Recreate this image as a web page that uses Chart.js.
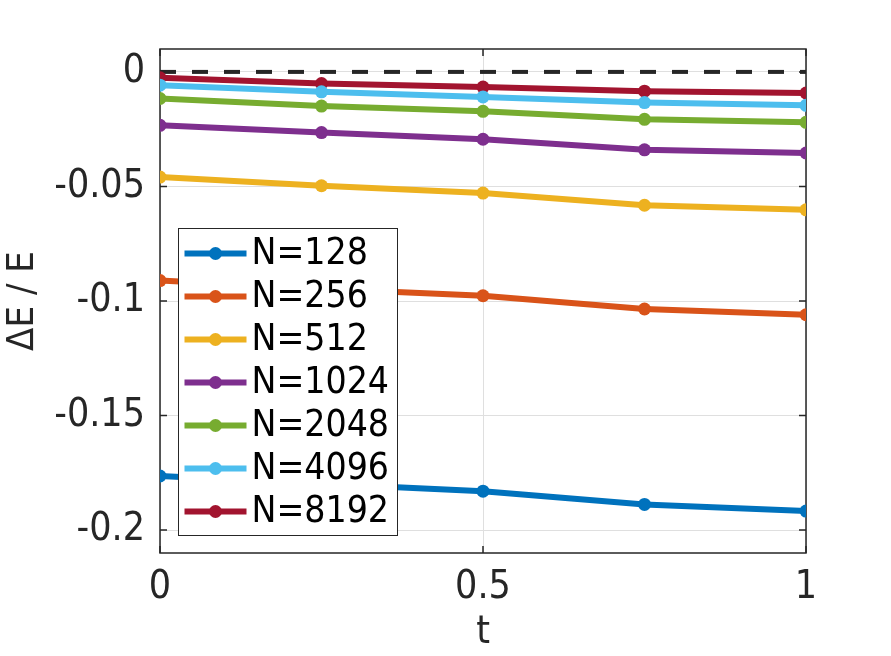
<!DOCTYPE html>
<html>
<head>
<meta charset="utf-8">
<script src="https://cdn.jsdelivr.net/npm/chart.js@4/dist/chart.umd.min.js"></script>
<style>
  html, body { margin: 0; padding: 0; background: #fff; }
  canvas { display: block; }
</style>
</head>
<body>
<canvas id="chart" width="891" height="656"></canvas>
<script>
// time samples
const times = [0, 0.25, 0.5, 0.75, 1];

// relative energy error per resolution
const labels = ["N=128", "N=256", "N=512", "N=1024", "N=2048", "N=4096", "N=8192"];
const n128  = [-0.1764, -0.1798, -0.1830, -0.1888, -0.1917];
const n256  = [-0.0911, -0.0946, -0.0977, -0.1035, -0.1060];
const n512  = [-0.0459, -0.0497, -0.0529, -0.0582, -0.0602];
const n1024 = [-0.0233, -0.0265, -0.0294, -0.0340, -0.0354];
const n2048 = [-0.0116, -0.0149, -0.0172, -0.0207, -0.0220];
const n4096 = [-0.0058, -0.0087, -0.0109, -0.0134, -0.0146];
const n8192 = [-0.0026, -0.0051, -0.0066, -0.0084, -0.0092];
const series = [n128, n256, n512, n1024, n2048, n4096, n8192];
const colors = ["#0072BD", "#D95319", "#EDB120", "#7E2F8E", "#77AC30", "#4DBEEE", "#A2142F"];

const zeroLine = [0, 0];
const xTicks = [0, 0.5, 1];
const yTicks = [-0.2, -0.15, -0.1, -0.05, 0];

const FONT = "'DejaVu Sans Condensed', 'DejaVu Sans', sans-serif";
const INK = "#262626";

const datasets = series.map((vals, i) => ({
  label: labels[i],
  data: vals.map((v, j) => ({ x: times[j], y: v })),
  borderColor: colors[i],
  backgroundColor: colors[i],
  borderWidth: 6,
  pointRadius: 6.5,
  pointHoverRadius: 6.5,
  pointBorderWidth: 0,
  tension: 0
}));

datasets.push({
  label: "zero",
  data: zeroLine.map((v, j) => ({ x: xTicks[j * 2], y: v })),
  borderColor: INK,
  borderWidth: 4,
  borderDash: [16, 16],
  pointRadius: 0,
  tension: 0
});

// box + inward ticks, under the lines
const axesBox = {
  id: "axesBox",
  beforeDatasetsDraw(chart) {
    const { ctx, chartArea: a, scales: { x, y } } = chart;
    ctx.save();
    ctx.strokeStyle = INK;
    ctx.lineWidth = 1.5;
    ctx.strokeRect(a.left, a.top, a.right - a.left, a.bottom - a.top);
    ctx.beginPath();
    const tl = 7;
    xTicks.forEach(v => {
      const px = x.getPixelForValue(v);
      ctx.moveTo(px, a.bottom); ctx.lineTo(px, a.bottom - tl);
      ctx.moveTo(px, a.top); ctx.lineTo(px, a.top + tl);
    });
    yTicks.forEach(v => {
      const py = y.getPixelForValue(v);
      ctx.moveTo(a.left, py); ctx.lineTo(a.left + tl, py);
      ctx.moveTo(a.right, py); ctx.lineTo(a.right - tl, py);
    });
    ctx.stroke();
    ctx.restore();
  }
};

// MATLAB-like legend box inside the axes
const boxLegend = {
  id: "boxLegend",
  afterDraw(chart) {
    const { ctx, chartArea: a } = chart;
    const left = a.left + 18.5, top = a.top + 179.5;
    const w = 219, h = 307, row = 43;
    ctx.save();
    ctx.fillStyle = "#fff";
    ctx.fillRect(left, top, w, h);
    ctx.strokeStyle = INK;
    ctx.lineWidth = 1;
    ctx.strokeRect(left, top, w, h);
    ctx.font = "37px " + FONT;
    ctx.textBaseline = "middle";
    labels.forEach((lab, i) => {
      const cy = top + 25 + i * row;
      ctx.strokeStyle = colors[i];
      ctx.lineWidth = 6;
      ctx.beginPath();
      ctx.moveTo(left + 6, cy);
      ctx.lineTo(left + 68, cy);
      ctx.stroke();
      ctx.fillStyle = colors[i];
      ctx.beginPath();
      ctx.arc(left + 37, cy, 6.5, 0, Math.PI * 2);
      ctx.fill();
      ctx.fillStyle = "#000";
      ctx.fillText(lab, left + 73, cy + 1);
    });
    ctx.restore();
  }
};

new Chart(document.getElementById("chart"), {
  type: "line",
  data: { datasets },
  plugins: [axesBox, boxLegend],
  options: {
    responsive: false,
    animation: false,
    devicePixelRatio: 1,
    layout: { padding: { top: 49, right: 85, left: 0, bottom: 0 } },
    plugins: { legend: { display: false }, tooltip: { enabled: false } },
    scales: {
      x: {
        type: "linear",
        min: 0,
        max: 1,
        afterBuildTicks: s => { s.ticks = xTicks.map(v => ({ value: v })); },
        afterFit: s => { s.height = 103; },
        ticks: { font: { family: FONT, size: 39 }, color: INK, padding: 11, maxRotation: 0,
          callback: v => String(v) },
        grid: { color: "#dfdfdf", lineWidth: 1, drawTicks: false },
        border: { display: false },
        title: { display: true, text: "t", font: { family: FONT, size: 39 }, color: INK,
          padding: { top: 0, bottom: 0 } }
      },
      y: {
        type: "linear",
        min: -0.21,
        max: 0.01,
        afterBuildTicks: s => { s.ticks = yTicks.map(v => ({ value: v })); },
        afterFit: s => { s.width = 160; },
        ticks: { font: { family: FONT, size: 39 }, color: INK, padding: 15,
          callback: v => String(+v.toFixed(2)) },
        grid: { color: "#dfdfdf", lineWidth: 1, drawTicks: false },
        border: { display: false },
        title: { display: true, text: "ΔE / E", font: { family: FONT, size: 38 }, color: INK,
          padding: { top: 0, bottom: 0 } }
      }
    }
  }
});
</script>
</body>
</html>
